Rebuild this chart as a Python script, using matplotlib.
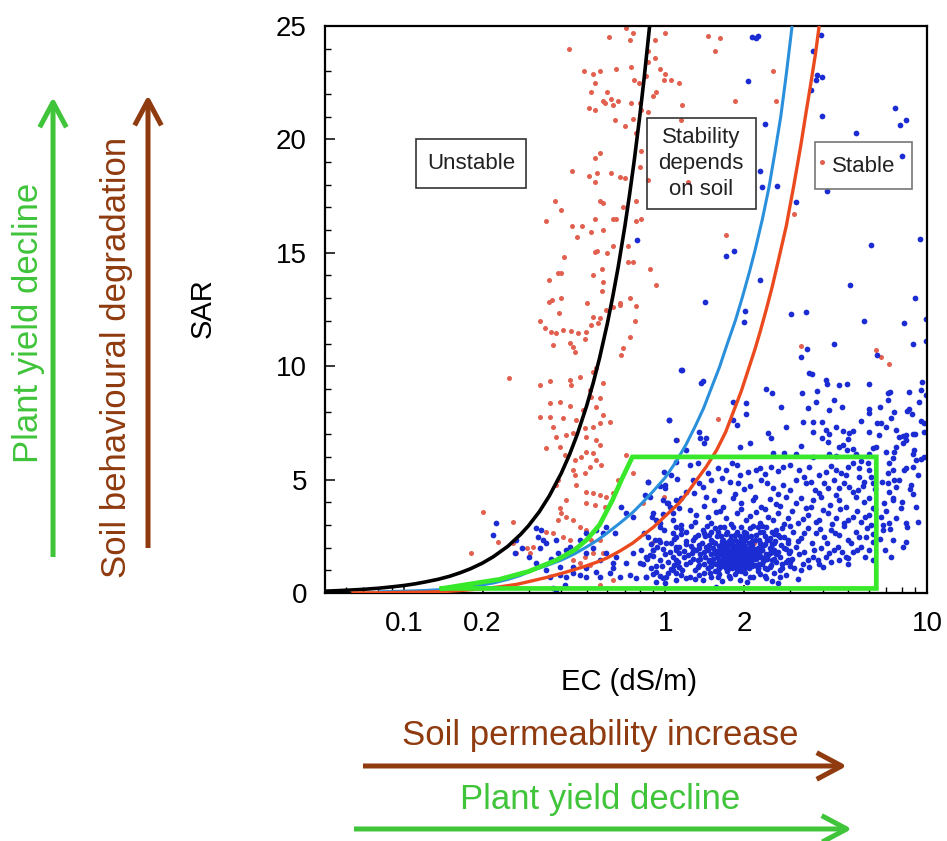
import matplotlib
matplotlib.use("Agg")
import matplotlib.pyplot as plt
from matplotlib.patches import Rectangle, FancyArrowPatch
from matplotlib.ticker import MultipleLocator, NullFormatter

plt.rcParams['font.family'] = ['Liberation Sans', 'DejaVu Sans']

# threshold curves (EC in dS/m, SAR)
black_ec = [0.05, 0.055, 0.06, 0.065, 0.07, 0.08, 0.09, 0.1, 0.11, 0.12, 0.135, 0.15, 0.165,
            0.18, 0.2, 0.22, 0.25, 0.28, 0.3, 0.33, 0.36, 0.4, 0.43, 0.46, 0.5, 0.53, 0.56,
            0.6, 0.63, 0.66, 0.7, 0.73, 0.76, 0.8, 0.83, 0.87]
black_sar = [0.08, 0.1, 0.12, 0.14, 0.16, 0.21, 0.27, 0.33, 0.4, 0.48, 0.6, 0.74, 0.9,
             1.07, 1.32, 1.6, 2.06, 2.59, 2.97, 3.59, 4.28, 5.28, 6.1, 6.98, 8.25, 9.27, 10.35,
             11.88, 13.1, 14.37, 16.17, 17.59, 19.06, 21.12, 22.73, 24.98]

blue_ec = [0.08, 0.1, 0.12, 0.14, 0.16, 0.174, 0.2, 0.22, 0.25, 0.28, 0.31, 0.35, 0.4, 0.45,
           0.5, 0.55, 0.6, 0.67, 0.75, 0.82, 0.9, 1.0, 1.1, 1.2, 1.3, 1.4, 1.5, 1.61, 1.72,
           1.85, 1.97, 2.1, 2.2, 2.35, 2.49, 2.62, 2.76, 2.9, 3.05]
blue_sar = [0.05, 0.08, 0.11, 0.15, 0.21, 0.26, 0.36, 0.44, 0.6, 0.78, 1.0, 1.2, 1.45, 1.73,
            2.03, 2.33, 2.65, 3.08, 3.55, 4.0, 4.5, 5.1, 5.8, 6.55, 7.35, 8.15, 9.05, 9.96, 10.95,
            12.0, 13.05, 14.2, 15.1, 16.5, 17.9, 19.4, 21.0, 22.9, 25.0]

red_ec = [0.063, 0.08, 0.1, 0.12, 0.14, 0.17, 0.2, 0.232, 0.27, 0.3, 0.35, 0.4, 0.44, 0.5,
          0.55, 0.6, 0.67, 0.75, 0.82, 0.9, 1.0, 1.13, 1.22, 1.3, 1.43, 1.57, 1.7, 1.8, 1.95,
          2.09, 2.2, 2.3, 2.43, 2.56, 2.72, 2.9, 3.1, 3.3, 3.45, 3.6, 3.75, 3.87]
red_sar = [0.0, 0.01, 0.03, 0.04, 0.06, 0.12, 0.19, 0.27, 0.38, 0.5, 0.68, 0.86, 1.0, 1.2,
           1.37, 1.55, 1.85, 2.2, 2.55, 2.9, 3.4, 3.97, 4.45, 4.9, 5.55, 6.3, 7.1, 7.85, 8.9,
           9.96, 10.75, 11.5, 12.5, 13.5, 14.8, 16.2, 18.0, 19.8, 21.2, 22.5, 23.8, 25.0]

green_ec = [0.14, 0.18, 0.232, 0.3, 0.383, 0.45, 0.5, 0.56, 0.628, 0.68, 0.748, 6.4, 6.4, 0.14]
green_sar = [0.2, 0.4, 0.6, 0.95, 1.45, 1.9, 2.34, 3.0, 4.1, 5.0, 6.0, 6.0, 0.2, 0.2]

# unstable (red) samples
red_top = [(0.71, 24.9), (0.75, 24.7), (0.61, 24.5), (0.73, 24.4), (0.91, 24.4), (1.0, 24.7),
           (0.43, 24.0), (0.86, 23.9), (0.91, 23.6), (0.86, 23.4), (0.49, 23.0), (0.53, 22.9),
           (0.56, 23.0), (0.65, 23.1), (0.74, 23.2), (0.955, 23.1), (1.0, 22.9), (0.54, 22.5),
           (0.757, 22.6), (0.796, 22.5), (0.843, 22.8), (0.99, 22.6), (1.05, 22.6), (0.52, 22.1),
           (0.60, 22.1), (0.62, 21.8), (0.58, 21.7), (0.59, 21.6), (0.66, 21.7), (0.74, 21.6),
           (0.80, 21.6), (0.92, 22.1), (0.895, 21.9), (0.51, 21.4), (0.54, 21.3), (0.63, 21.5),
           (0.64, 20.85), (0.70, 20.6), (0.75, 20.9), (0.81, 21.3), (0.86, 21.2), (0.77, 20.3),
           (0.81, 19.5), (0.56, 19.4), (0.54, 19.2), (0.80, 18.8), (0.55, 18.5), (0.51, 18.4),
           (0.62, 18.5), (0.67, 18.35), (0.70, 18.3), (0.54, 18.1), (0.44, 18.6), (0.86, 18.2),
           (0.56, 17.3), (0.58, 17.2), (0.38, 17.3), (0.40, 16.9), (0.77, 17.3), (0.63, 16.5),
           (0.65, 16.5), (0.69, 17.0), (0.35, 16.4), (0.44, 16.2), (0.48, 16.2), (0.54, 16.5),
           (0.58, 16.0), (0.52, 15.9), (0.77, 16.4), (0.81, 16.5), (0.46, 15.7), (0.63, 15.3),
           (0.54, 15.05), (0.55, 15.1), (0.60, 15.0), (0.72, 15.3), (0.41, 14.8), (0.72, 14.6),
           (0.75, 14.6), (0.87, 14.3), (0.57, 14.3), (0.39, 14.1), (0.40, 14.1), (0.36, 13.8),
           (0.53, 14.0), (0.58, 13.7), (0.92, 13.6), (0.37, 12.9), (0.40, 13.0), (0.50, 12.8),
           (0.57, 13.3), (0.67, 12.8), (0.73, 13.0), (0.77, 12.65)]
red_right = [(1.45, 24.55), (1.61, 24.45), (1.55, 23.9), (1.13, 22.5), (2.57, 23.0), (1.85, 21.7),
             (2.64, 21.7), (1.16, 21.5), (1.15, 20.85), (1.22, 18.1), (3.98, 19.0), (1.70, 15.8),
             (3.10, 16.7), (3.29, 10.9), (6.37, 10.7), (6.65, 10.4), (7.16, 10.1), (1.59, 7.65),
             (1.11, 6.74), (0.99, 4.24), (2.19, 2.22), (0.82, 3.95), (0.89, 2.22)]
red_low = [(0.359, 12.85), (0.392, 12.36), (0.331, 12.01), (0.346, 11.67), (0.366, 11.52),
           (0.383, 11.48), (0.406, 11.6), (0.437, 11.57), (0.463, 11.48), (0.499, 11.52),
           (0.521, 11.82), (0.551, 11.89), (0.528, 12.19), (0.56, 12.11), (0.595, 12.48),
           (0.631, 12.63), (0.668, 12.7), (0.763, 12.01), (0.73, 11.3), (0.688, 10.79),
           (0.678, 10.49), (0.491, 11.19), (0.431, 11.01), (0.443, 10.86), (0.45, 10.64),
           (0.372, 10.94), (0.253, 9.47), (0.331, 9.17), (0.361, 9.36), (0.431, 9.39),
           (0.437, 9.17), (0.47, 9.54), (0.528, 9.76), (0.544, 9.91), (0.577, 9.28),
           (0.514, 8.95), (0.521, 8.66), (0.56, 8.58), (0.361, 8.36), (0.395, 8.44),
           (0.431, 8.25), (0.484, 8.07), (0.544, 8.22), (0.577, 7.85), (0.331, 7.78),
           (0.361, 7.78), (0.406, 7.7), (0.456, 7.63), (0.491, 7.26), (0.528, 7.34),
           (0.56, 7.48), (0.613, 7.56), (0.372, 7.34), (0.383, 6.89), (0.418, 6.97),
           (0.443, 7.04), (0.499, 6.89), (0.544, 6.75), (0.56, 6.53), (0.351, 6.38),
           (0.395, 6.45), (0.412, 6.09), (0.45, 5.87), (0.477, 6.01), (0.499, 6.23),
           (0.528, 6.16), (0.544, 5.87), (0.569, 5.64), (0.514, 5.57), (0.443, 5.42),
           (0.45, 5.2), (0.491, 5.28), (0.389, 4.98), (0.383, 4.76), (0.456, 4.76),
           (0.499, 4.47), (0.528, 4.4), (0.56, 4.32), (0.595, 4.25), (0.631, 4.4),
           (0.659, 4.98), (0.708, 6.09), (0.536, 3.88), (0.586, 3.81), (0.499, 3.95),
           (0.418, 4.1), (0.395, 3.73), (0.4, 3.51), (0.418, 3.37), (0.443, 3.22),
           (0.389, 3.22), (0.47, 2.93), (0.499, 2.78), (0.521, 2.34), (0.56, 2.34),
           (0.577, 1.75), (0.528, 1.75), (0.491, 1.6), (0.456, 1.97), (0.431, 2.34),
           (0.406, 2.49), (0.372, 2.63), (0.341, 2.34), (0.351, 2.71), (0.312, 2.04),
           (0.303, 1.75), (0.295, 1.97), (0.269, 1.75), (0.262, 2.19), (0.229, 2.26),
           (0.201, 3.59), (0.262, 3.15), (0.181, 1.75), (0.443, 1.46), (0.47, 1.31),
           (0.514, 1.24), (0.56, 0.35), (0.631, 0.57), (0.752, 5.28)]

# stable (blue) samples
blue_top = [(0.78, 15.56), (2.15, 24.53), (2.22, 24.45), (2.25, 24.55), (3.93, 24.6), (3.67, 23.9),
            (2.06, 22.59), (3.81, 22.84), (3.98, 22.76), (3.76, 22.61), (3.60, 22.17), (3.98, 21.03),
            (2.41, 20.7), (7.55, 21.37), (8.34, 20.85), (7.87, 20.63), (5.37, 20.26), (8.0, 19.26),
            (2.29, 18.6), (2.35, 17.91), (2.68, 17.94), (4.13, 17.73), (3.15, 17.25), (1.83, 15.09),
            (1.70, 14.85), (6.09, 15.33), (9.38, 15.59), (2.30, 13.8), (5.07, 13.58), (1.42, 12.84),
            (9.0, 12.99), (2.02, 12.44), (1.99, 11.96), (3.02, 12.3), (3.44, 12.4), (5.74, 12.0),
            (8.17, 11.9), (9.9, 12.06), (9.9, 11.1), (4.42, 10.97), (8.83, 10.97), (3.49, 10.74),
            (3.29, 10.39), (6.46, 10.49), (1.16, 9.83)]
blue_left = [(0.226, 3.10), (0.219, 2.56), (0.268, 2.34), (0.282, 1.97), (0.266, 1.75), (0.321, 2.85),
             (0.336, 2.78), (0.326, 2.49), (0.341, 2.34), (0.331, 1.97), (0.351, 2.19), (0.383, 2.34),
             (0.300, 1.60), (0.321, 1.31), (0.367, 1.49), (0.389, 1.75), (0.418, 1.90), (0.431, 2.04),
             (0.470, 2.34), (0.499, 2.63), (0.544, 2.78), (0.577, 2.63), (0.595, 2.93), (0.640, 2.63),
             (0.678, 3.81), (0.708, 3.51), (0.752, 3.37), (0.857, 4.91), (0.833, 4.32), (0.993, 4.76),
             (1.03, 7.63), (1.10, 6.75), (0.978, 4.10), (1.01, 3.95), (1.04, 3.81), (1.07, 3.51),
             (0.895, 3.51), (0.92, 3.22), (1.10, 2.93), (0.499, 1.75), (0.528, 1.97), (0.560, 1.46),
             (0.595, 1.75), (0.631, 1.31), (0.649, 1.60), (0.708, 1.31), (0.752, 1.75), (0.797, 1.31),
             (0.845, 1.60), (0.895, 1.90), (0.949, 2.34), (1.007, 2.19), (1.07, 2.63), (1.10, 2.04),
             (1.13, 1.75), (0.361, 0.72), (0.395, 0.79), (0.418, 0.72), (0.443, 0.87), (0.470, 0.79),
             (0.499, 0.72), (0.544, 0.94), (0.560, 0.72), (0.612, 0.87), (0.668, 0.72), (0.730, 0.79),
             (0.775, 0.65), (0.845, 0.72), (0.922, 0.94), (1.007, 0.72), (1.07, 1.01), (1.13, 1.16),
             (0.412, 0.35), (0.383, 0.05), (0.372, 0.21), (0.631, 1.09), (0.499, 1.09), (0.443, 1.16),
             (0.395, 1.16), (0.351, 1.01)]
blue_mid = [(1.15, 9.83), (1.39, 9.36), (1.37, 9.24), (3.55, 9.68), (3.64, 9.65), (4.11, 9.39),
            (4.13, 9.21), (4.59, 9.17), (4.93, 9.21), (6.02, 9.21), (2.42, 8.98), (2.56, 8.80),
            (3.33, 8.80), (3.79, 8.92), (7.07, 8.83), (7.21, 8.87), (8.55, 8.87), (9.48, 8.95),
            (9.95, 8.73), (1.82, 8.43), (2.04, 8.39), (2.77, 8.21), (3.50, 8.14), (3.75, 8.43),
            (4.23, 8.07), (4.73, 8.21), (6.02, 8.10), (5.99, 7.92), (7.07, 8.51), (7.50, 7.99),
            (8.42, 8.04), (1.03, 7.62), (2.03, 7.89), (1.82, 7.62), (1.87, 7.40), (3.35, 7.55),
            (3.66, 7.55), (3.97, 7.55), (4.49, 7.33), (6.42, 7.51), (6.67, 7.48), (6.97, 7.33),
            (9.76, 7.48), (1.35, 7.11), (2.46, 7.04), (2.53, 6.82), (1.36, 6.82), (1.43, 6.82),
            (3.66, 7.11), (4.11, 7.18), (4.23, 7.01), (4.76, 7.15), (5.05, 7.07), (5.23, 7.15),
            (6.02, 7.11), (6.57, 6.96), (7.61, 7.18), (7.83, 6.89), (8.30, 6.96), (8.81, 7.01),
            (9.76, 7.11), (1.41, 6.60), (1.92, 6.42), (3.97, 6.82), (4.17, 6.67), (4.59, 6.42),
            (4.76, 6.52), (5.20, 6.33), (4.93, 6.30), (5.35, 6.15), (6.38, 6.45), (6.97, 6.23),
            (8.30, 6.74), (8.07, 6.60), (7.61, 6.45), (8.81, 6.15), (2.57, 6.18), (2.85, 6.18),
            (3.16, 6.12), (3.66, 6.01), (4.23, 6.12), (4.49, 6.04), (6.02, 6.15), (7.39, 5.93),
            (9.48, 5.89), (9.07, 5.86), (1.2, 6.3), (2.1, 6.6), (2.9, 7.3), (3.3, 6.5), (4.4, 8.5),
            (5.0, 6.8), (5.6, 7.6), (6.2, 6.4), (6.6, 8.2), (7.3, 7.7), (8.8, 7.9), (9.3, 8.4)]
blue_box = [(0.99, 5.35), (1.10, 5.79), (1.24, 5.64), (1.33, 5.71), (1.59, 5.49), (1.71, 5.42),
            (1.87, 5.64), (1.92, 5.20), (2.07, 5.35), (2.22, 5.42), (2.29, 5.49), (2.53, 5.57),
            (2.81, 5.57), (3.25, 5.42), (3.55, 5.57), (3.88, 5.20), (4.11, 5.35), (4.49, 5.42),
            (4.97, 5.57), (5.20, 5.71), (5.48, 5.49), (5.93, 5.71), (6.02, 5.42), (4.90, 5.20),
            (5.51, 5.13), (5.76, 4.91), (7.17, 5.71), (7.39, 5.42), (8.19, 5.42), (8.81, 5.57),
            (0.86, 4.91), (1.11, 5.01), (1.27, 4.98), (1.39, 4.69), (1.50, 4.98), (1.64, 5.05),
            (1.76, 4.91), (1.90, 4.83), (2.10, 4.72), (2.32, 4.98), (2.57, 4.61), (2.81, 4.76),
            (3.16, 4.98), (3.45, 4.83), (3.72, 4.54), (4.05, 4.83), (4.42, 4.98), (4.62, 4.61),
            (5.05, 4.69), (5.43, 4.54), (6.19, 4.83), (7.07, 4.86), (7.50, 4.98), (8.68, 4.76),
            (7.13, 4.46), (1.00, 4.61), (1.20, 4.46), (1.29, 4.39), (8.81, 4.36), (7.61, 4.69),
            (0.87, 4.24), (1.02, 3.95), (1.10, 4.10), (1.43, 4.24), (1.54, 4.10), (1.66, 3.80),
            (1.81, 4.17), (1.95, 3.95), (2.16, 4.10), (2.32, 3.80), (2.50, 4.13), (2.65, 3.92),
            (2.89, 4.24), (3.16, 3.95), (3.45, 3.73), (3.66, 4.10), (3.94, 4.24), (4.26, 3.88),
            (4.62, 4.10), (4.90, 3.80), (5.35, 4.24), (5.76, 4.02), (6.19, 3.73), (6.87, 3.95),
            (7.39, 4.10), (7.95, 3.73), (1.24, 3.66), (1.31, 3.44), (1.45, 3.36), (1.56, 3.58),
            (1.71, 3.29), (1.87, 3.51), (2.04, 3.22), (2.22, 3.58), (2.46, 3.36), (2.69, 3.51),
            (2.93, 3.29), (3.20, 3.07), (3.50, 3.44), (3.88, 3.22), (4.17, 3.51), (4.49, 3.29),
            (4.83, 3.07), (5.20, 3.36), (5.59, 3.14), (6.02, 3.44), (6.67, 3.36), (7.17, 3.07),
            (8.30, 3.07), (9.20, 3.14), (0.89, 3.36), (0.95, 3.07), (1.07, 3.22), (1.15, 3.00)]
blue_low = [(0.83, 2.63), (0.91, 2.33), (0.99, 2.77), (1.10, 2.48), (1.20, 2.70), (1.27, 2.33),
            (1.39, 2.77), (1.47, 2.55), (1.59, 2.70), (1.68, 2.92), (1.76, 2.33), (1.87, 2.70),
            (1.98, 2.48), (2.10, 2.85), (2.22, 2.55), (2.37, 2.70), (2.50, 2.41), (2.65, 2.77),
            (2.85, 2.48), (3.07, 2.70), (3.30, 2.41), (3.50, 2.85), (3.77, 2.63), (4.05, 2.48),
            (4.30, 2.77), (4.62, 2.55), (4.97, 2.33), (5.35, 2.70), (5.85, 2.48), (6.19, 2.26),
            (6.77, 2.77), (7.39, 2.33), (8.07, 2.04), (8.30, 2.26), (0.81, 1.89), (0.87, 1.67),
            (0.93, 2.04), (1.04, 1.82), (1.13, 2.04), (1.22, 1.67), (1.31, 1.89), (1.43, 2.04),
            (1.54, 1.75), (1.64, 2.04), (1.74, 1.82), (1.81, 2.11), (1.92, 1.60), (2.04, 1.97),
            (2.16, 1.75), (2.29, 2.04), (2.46, 1.67), (2.61, 1.89), (2.77, 2.11), (2.98, 1.75),
            (3.16, 2.04), (3.40, 1.82), (3.66, 1.60), (3.94, 1.97), (4.23, 1.75), (4.55, 2.04),
            (4.90, 1.60), (5.20, 1.82), (5.59, 2.04), (6.02, 1.89), (6.19, 1.45), (4.97, 1.30),
            (0.82, 1.30), (0.88, 1.08), (0.95, 1.45), (1.02, 0.86), (1.08, 1.23), (1.16, 1.01),
            (1.24, 1.38), (1.33, 1.16), (1.41, 0.86), (1.50, 1.30), (1.59, 1.01), (1.68, 1.45),
            (1.79, 1.08), (1.90, 1.23), (2.01, 0.86), (2.13, 1.30), (2.26, 1.08), (2.39, 1.45),
            (2.53, 1.23), (2.73, 1.01), (2.89, 1.38), (3.11, 1.08), (3.35, 1.30), (3.55, 1.16),
            (3.83, 1.45), (3.99, 1.16), (4.30, 1.38), (4.62, 1.45), (0.84, 0.72), (0.92, 0.50),
            (0.98, 0.64), (1.10, 0.57), (1.24, 0.72), (1.39, 0.57), (1.59, 0.72), (1.76, 0.64),
            (1.92, 0.57), (2.16, 0.72), (2.43, 0.64), (2.73, 0.72), (2.69, 0.45), (1.56, 0.28)]
blue_fill = [(1.05, 5.2), (1.45, 5.3), (1.8, 5.75), (2.4, 5.25), (2.7, 5.4), (3.0, 5.65), (3.4, 5.1),
             (4.3, 5.6), (4.7, 5.3), (5.6, 5.8), (6.1, 5.1), (0.95, 4.7), (1.15, 4.2), (1.35, 4.85),
             (1.6, 4.5), (1.85, 4.35), (2.0, 4.6), (2.2, 4.25), (2.45, 4.85), (2.7, 4.35), (3.0, 4.55),
             (3.3, 4.2), (3.6, 4.9), (3.85, 4.4), (4.2, 4.65), (4.5, 4.3), (4.8, 4.85), (5.2, 4.45),
             (5.7, 4.7), (6.0, 4.2), (6.3, 4.6), (0.98, 3.5), (1.13, 3.75), (1.3, 3.15), (1.4, 3.85),
             (1.5, 3.1), (1.62, 3.6), (1.78, 3.05), (1.95, 3.7), (2.1, 3.4), (2.3, 3.1), (2.4, 3.7),
             (2.57, 3.2), (2.75, 3.85), (2.85, 3.05), (3.05, 3.6), (3.35, 3.25), (3.6, 3.8),
             (3.75, 3.15), (4.0, 3.65), (4.35, 3.05), (4.65, 3.7), (5.0, 3.2), (5.4, 3.6), (5.8, 3.35),
             (6.1, 3.0), (6.3, 3.7), (0.86, 2.45), (0.95, 2.9), (1.05, 2.2), (1.15, 2.8), (1.25, 2.05),
             (1.33, 2.55), (1.44, 2.95), (1.52, 2.25), (1.63, 2.5), (1.7, 2.15), (1.82, 2.9),
             (1.92, 2.3), (2.04, 2.65), (2.16, 2.95), (2.28, 2.35), (2.42, 2.9), (2.56, 2.15),
             (2.7, 2.55), (2.93, 2.2), (3.0, 2.95), (3.2, 2.3), (3.4, 2.65), (3.62, 2.2), (3.9, 2.8),
             (4.15, 2.2), (4.45, 2.65), (4.8, 2.95), (5.1, 2.2), (5.5, 2.45), (5.9, 2.85), (6.2, 2.6),
             (0.85, 1.5), (0.9, 1.9), (0.97, 1.2), (1.07, 1.6), (1.12, 1.35), (1.18, 1.85), (1.27, 1.5),
             (1.36, 1.7), (1.47, 1.45), (1.6, 1.3), (1.7, 1.2), (2.2, 1.55), (2.35, 1.9), (2.55, 1.45),
             (2.65, 1.7), (2.8, 1.3), (2.9, 1.95), (3.05, 1.5), (3.25, 1.7), (3.5, 1.45), (3.7, 1.9),
             (3.85, 1.3), (4.1, 1.6), (4.4, 1.9), (4.75, 1.8), (5.0, 1.55), (5.4, 1.9), (5.8, 1.6),
             (1.05, 1.05), (1.3, 1.0), (2.45, 1.05), (3.0, 1.2), (3.3, 1.0), (0.9, 0.85), (1.0, 0.45),
             (1.15, 0.8), (1.3, 0.6), (1.48, 0.9), (1.65, 0.55), (1.85, 0.85), (2.05, 0.5), (2.3, 0.85),
             (2.55, 0.55), (2.9, 0.8), (3.2, 0.6), (6.6, 2.4), (6.8, 3.0), (7.0, 3.6), (7.2, 2.8),
             (7.4, 4.2), (7.6, 3.3), (7.8, 5.0), (8.0, 4.0), (8.3, 5.5), (8.6, 4.6), (8.9, 6.3),
             (9.2, 5.2), (9.5, 7.6), (6.7, 4.9), (7.1, 5.3), (7.5, 6.2), (8.1, 6.9), (8.5, 8.1),
             (9.0, 7.0), (9.6, 9.3), (6.9, 1.9), (7.3, 1.6), (8.4, 2.9), (9.1, 3.8), (9.7, 6.0)]
blue_band = [(1.25, 2.95), (1.4, 2.65), (1.55, 2.85), (2.35, 2.95), (2.6, 2.6), (2.8, 2.85), (1.15, 2.6),
             (0.95, 2.25), (1.08, 2.4), (1.2, 2.3), (1.3, 2.45), (2.45, 2.35), (2.62, 2.3), (2.75, 2.45),
             (2.95, 2.35), (0.88, 2.15), (0.98, 1.95), (1.1, 1.9), (1.2, 2.15), (1.28, 1.95), (1.35, 2.1),
             (2.4, 2.15), (2.55, 1.95), (2.7, 1.8), (2.85, 2.0), (3.0, 1.85), (0.9, 1.65), (1.0, 1.7),
             (1.1, 1.45), (1.18, 1.6), (1.26, 1.75), (1.33, 1.45), (2.3, 1.65), (2.5, 1.75), (2.6, 1.5),
             (2.75, 1.6), (2.95, 1.45), (0.92, 1.2), (1.02, 1.35), (1.13, 1.15), (1.2, 1.3), (1.35, 1.25),
             (1.45, 1.1), (2.35, 1.3), (2.5, 1.15), (2.65, 1.35), (2.8, 1.1), (3.0, 1.35), (0.95, 0.75),
             (1.1, 0.9), (1.2, 0.65), (1.35, 0.8), (1.5, 0.7), (1.6, 0.85), (1.75, 0.75), (1.95, 0.95),
             (2.1, 0.7), (2.25, 0.95), (2.4, 0.75), (2.6, 0.9)]
# dense core of the blue cloud, EC values per SAR row
core_sar = [2.9, 2.7, 2.5, 2.35, 2.2, 2.1, 2.0, 1.9, 1.8, 1.7, 1.6, 1.5, 1.4, 1.3, 1.2, 1.1, 0.95]
core_ec = [[1.62, 1.95, 2.25],
           [1.5, 1.72, 2.0, 2.3, 2.55],
           [1.42, 1.58, 1.78, 1.93, 2.12, 2.4],
           [1.5, 1.66, 1.85, 2.02, 2.2, 2.48],
           [1.38, 1.55, 1.7, 1.8, 1.95, 2.08, 2.3, 2.6],
           [1.47, 1.63, 1.76, 1.9, 2.0, 2.15, 2.38],
           [1.35, 1.52, 1.68, 1.82, 1.88, 1.98, 2.1, 2.25, 2.5],
           [1.45, 1.6, 1.73, 1.85, 1.93, 2.05, 2.18, 2.33],
           [1.4, 1.55, 1.66, 1.78, 1.84, 1.9, 2.0, 2.12, 2.28, 2.55],
           [1.5, 1.62, 1.72, 1.8, 1.87, 1.95, 2.06, 2.2, 2.42],
           [1.42, 1.58, 1.69, 1.76, 1.83, 1.9, 2.0, 2.14, 2.3],
           [1.36, 1.52, 1.64, 1.74, 1.82, 1.92, 2.03, 2.22, 2.45],
           [1.47, 1.6, 1.72, 1.86, 1.97, 2.1, 2.36],
           [1.4, 1.56, 1.68, 1.8, 1.92, 2.05, 2.28],
           [1.5, 1.65, 1.78, 1.95, 2.15],
           [1.45, 1.6, 1.75, 1.9, 2.08, 2.4],
           [1.55, 1.72, 1.88, 2.0]]
core_extra = [(1.7, 2.6), (1.85, 2.55), (2.05, 2.45), (1.65, 2.28), (1.75, 2.3), (1.9, 2.25),
              (2.15, 2.28), (1.6, 2.05), (1.72, 2.0), (1.95, 2.05), (2.05, 1.95), (2.18, 1.95),
              (1.55, 1.85), (1.7, 1.83), (1.82, 1.75), (1.95, 1.8), (2.08, 1.75), (2.25, 1.75),
              (1.58, 1.65), (1.68, 1.6), (1.79, 1.62), (1.86, 1.58), (1.97, 1.65), (2.1, 1.6),
              (2.4, 1.6), (1.6, 1.45), (1.7, 1.42), (1.79, 1.48), (1.87, 1.42), (2.0, 1.45),
              (2.15, 1.45), (1.52, 1.32), (1.64, 1.25), (1.76, 1.33), (1.86, 1.28), (2.0, 1.3),
              (2.2, 1.25), (1.7, 1.1), (1.84, 1.15), (2.0, 1.12), (2.25, 1.1)]

x_ticks = [0.1, 0.2, 1, 2, 10]
x_ticklabels = ['0.1', '0.2', '1', '2', '10']

RED_PT = '#e2604f'
BLUE_PT = '#1a2cd2'
GREEN = '#3fc43a'
BROWN = '#8f3a0f'

fig = plt.figure(figsize=(9.47, 8.41), dpi=100)
ax = fig.add_axes([0.3432, 0.2949, 0.6357, 0.6742])

reds = red_top + red_right + red_low
blues = (blue_top + blue_left + blue_mid + blue_box + blue_low + blue_fill + blue_band
         + core_extra)
for s, row in zip(core_sar, core_ec):
    blues += [(e, s) for e in row]

ax.scatter([p[0] for p in reds], [p[1] for p in reds], s=13, color=RED_PT, lw=0, zorder=2)
ax.scatter([p[0] for p in blues], [p[1] for p in blues], s=17, color=BLUE_PT, lw=0, zorder=2)

ax.plot(black_ec, black_sar, color='black', lw=2.6, zorder=4, solid_capstyle='butt')
ax.plot(blue_ec, blue_sar, color='#2a90dc', lw=2.2, zorder=4, solid_capstyle='butt')
ax.plot(red_ec, red_sar, color='#ea4a1e', lw=2.4, zorder=4, solid_capstyle='butt')
ax.plot(green_ec, green_sar, color='#38e82a', lw=3.4, zorder=5, solid_joinstyle='miter')

ax.set_xscale('log')
ax.set_xlim(0.05, 10)
ax.set_ylim(0, 25)

ax.set_xticks(x_ticks)
ax.set_xticklabels(x_ticklabels)
ax.set_xticks([0.06, 0.07, 0.08, 0.09, 0.3, 0.4, 0.5, 0.6, 0.7, 0.8, 0.9,
               3, 4, 5, 6, 7, 8, 9], minor=True)
ax.xaxis.set_minor_formatter(NullFormatter())
ax.yaxis.set_major_locator(MultipleLocator(5))
ax.yaxis.set_minor_locator(MultipleLocator(1))

ax.tick_params(axis='x', which='major', direction='in', length=6, width=1.1,
               labelsize=20, pad=13)
ax.tick_params(axis='x', which='minor', direction='in', length=4, width=1.0)
ax.tick_params(axis='y', which='major', direction='in', length=7.5, width=1.1,
               labelsize=20, pad=13)
ax.tick_params(axis='y', which='minor', direction='in', length=4.5, width=1.0)
for sp in ax.spines.values():
    sp.set_linewidth(1.6)

# region boxes
boxes = [((0.151, 0.714), 0.183, 0.087, '#333333', 'Unstable', (0.2425, 0.757)),
         ((0.535, 0.677), 0.181, 0.161, '#333333', 'Stability\ndepends\non soil', (0.625, 0.757)),
         ((0.814, 0.713), 0.161, 0.082, '#777777', 'Stable', (0.894, 0.753))]
for xy, w, h, ec, label, pos in boxes:
    ax.add_patch(Rectangle(xy, w, h, transform=ax.transAxes, fill=False,
                           edgecolor=ec, lw=1.2, zorder=6))
    ax.text(pos[0], pos[1], label, transform=ax.transAxes, ha='center', va='center',
            fontsize=16, color='#222222', linespacing=1.3, zorder=7)

# axis titles and trend arrows
fig.text(0.2144, 0.6338, 'SAR', rotation=90, ha='center', va='center', fontsize=21)
fig.text(0.6642, 0.189, 'EC (dS/m)', ha='center', va='center', fontsize=21)
fig.text(0.0296, 0.616, 'Plant yield decline', rotation=90, ha='center', va='center',
         fontsize=25, color=GREEN)
fig.text(0.1225, 0.5755, 'Soil behavioural degradation', rotation=90, ha='center',
         va='center', fontsize=25, color=BROWN)
fig.text(0.6336, 0.126, 'Soil permeability increase', ha='center', va='center',
         fontsize=25, color=BROWN)
fig.text(0.6336, 0.0488, 'Plant yield decline', ha='center', va='center',
         fontsize=25, color=GREEN)

arrows = [((0.056, 0.3377), (0.056, 0.8847), GREEN),
          ((0.1563, 0.3484), (0.1563, 0.887), BROWN),
          ((0.3833, 0.0892), (0.8944, 0.0892), BROWN),
          ((0.3738, 0.0143), (0.8997, 0.0143), GREEN)]
for a, b, c in arrows:
    fig.add_artist(FancyArrowPatch(a, b, transform=fig.transFigure,
                                   arrowstyle='->,head_length=0.6,head_width=0.32',
                                   mutation_scale=30, lw=3.6, color=c,
                                   shrinkA=0, shrinkB=0, capstyle='butt'))

fig.savefig('out.png', dpi=100)
